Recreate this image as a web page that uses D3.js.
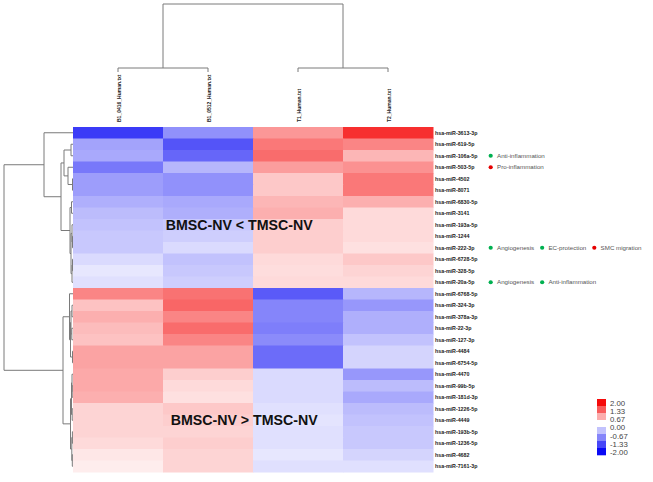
<!DOCTYPE html>
<html><head><meta charset="utf-8">
<script src="https://cdn.jsdelivr.net/npm/d3@7/dist/d3.min.js"></script>
<style>body{margin:0;background:#fff}svg{display:block}</style>
</head><body>
<script>
// ---------- data ----------
const columns = ["B1_0416_Human.txt", "B1_0512_Human.txt", "T1_Human.txt", "T2_Human.txt"];
const rows = ["hsa-miR-3613-3p","hsa-miR-619-5p","hsa-miR-106a-5p","hsa-miR-503-5p","hsa-miR-4502","hsa-miR-8071",
  "hsa-miR-6830-5p","hsa-miR-3141","hsa-miR-193a-5p","hsa-miR-1244","hsa-miR-222-3p","hsa-miR-6728-5p",
  "hsa-miR-328-5p","hsa-miR-20a-5p","hsa-miR-6768-5p","hsa-miR-324-3p","hsa-miR-378a-3p","hsa-miR-22-3p",
  "hsa-miR-127-3p","hsa-miR-4484","hsa-miR-6754-5p","hsa-miR-4470","hsa-miR-99b-5p","hsa-miR-181d-3p",
  "hsa-miR-1226-5p","hsa-miR-4449","hsa-miR-193b-5p","hsa-miR-1236-5p","hsa-miR-4682","hsa-miR-7161-3p"];
const b1_0416 = [-1.6,-0.75,-0.7,-1.1,-0.8,-0.8,-0.65,-0.55,-0.5,-0.45,-0.45,-0.3,-0.2,-0.25,
  1.0,0.5,0.65,0.55,0.5,0.75,0.75,0.7,0.7,0.65,0.35,0.35,0.35,0.3,0.2,0.15];
const b1_0512 = [-0.9,-1.4,-1.25,-0.6,-0.9,-0.9,-0.7,-0.65,-0.45,-0.4,-0.3,-0.5,-0.45,-0.4,
  1.15,1.25,1.0,1.2,1.0,0.75,0.75,0.4,0.3,0.25,0.45,0.4,0.35,0.4,0.35,0.35];
const t1 = [0.85,1.1,1.2,0.8,0.45,0.45,0.6,0.65,0.4,0.4,0.4,0.3,0.28,0.3,
  -1.35,-1.0,-1.0,-1.05,-0.95,-1.2,-1.2,-0.3,-0.3,-0.3,-0.25,-0.22,-0.25,-0.25,-0.2,-0.25];
const t2 = [1.7,1.0,0.6,0.9,1.1,1.1,0.65,0.3,0.3,0.3,0.25,0.45,0.35,0.3,
  -0.6,-0.85,-0.65,-0.65,-0.5,-0.35,-0.35,-0.85,-0.55,-0.7,-0.55,-0.5,-0.45,-0.45,-0.35,-0.25];
const seriesValues = [b1_0416, b1_0512, t1, t2];

// dendrograms: [height, left, right]; leaves are indices
const rowTree = [69,
  [29, 0, [12, [9, [2, 1, 2], [5, 3, [0.5, 4, 5]]],
               [3, [1.5, 6, 7], [2, [1, 8, [0.5, 9, 10]], [1, [0.5, 11, 12], 13]]]]],
  [10, [3.5, 14, [2.5, [2, [1, 15, 16], [1.2, 17, 18]], [0.5, 19, 20]]],
       [2.5, [1.5, [1, 21, [0.8, 22, 23]], [0.8, 24, 25]], [1.2, [0.6, 26, 27], [0.7, 28, 29]]]]];
const colTree = [68, [4, 0, 1], [4, 2, 3]];

const annotations = [
  ["hsa-miR-106a-5p", "Anti-inflammation", "green"],
  ["hsa-miR-503-5p", "Pro-inflammation", "red"],
  ["hsa-miR-222-3p", "Angiogenesis", "green"],
  ["hsa-miR-222-3p", "EC-protection", "green"],
  ["hsa-miR-222-3p", "SMC migration", "red"],
  ["hsa-miR-20a-5p", "Angiogenesis", "green"],
  ["hsa-miR-20a-5p", "Anti-inflammation", "green"]
];
const groupLabels = ["BMSC-NV < TMSC-NV", "BMSC-NV > TMSC-NV"];
const groupRows = ["hsa-miR-193a-5p", "hsa-miR-4449"];
const legendTicks = ["2.00", "1.33", "0.67", "0.00", "-0.67", "-1.33", "-2.00"];
const legendSwatches = [2, 1.33, 0.67, 0, -0.5, -1, -1.5, -2];

// ---------- drawing ----------
const W = 653, H = 482;
const svg = d3.select("body").append("svg").attr("width", W).attr("height", H);
const FONT = "Arial, 'Liberation Sans', sans-serif";

const x = d3.scaleBand().domain(columns).range([73, 433]);
const y = d3.scaleBand().domain(rows).range([127, 472]);
const color = d3.scaleLinear().domain([-2, 0, 2]).range(["#0a0af5", "#ffffff", "#f50a0a"]);

// cells
const cells = [];
rows.forEach((r, i) => columns.forEach((c, j) => cells.push({r, c, v: seriesValues[j][i]})));
svg.append("g").selectAll("rect").data(cells).join("rect")
  .attr("x", d => x(d.c)).attr("y", d => y(d.r))
  .attr("width", x.bandwidth() + 0.5).attr("height", y.bandwidth() + 0.5)
  .attr("fill", d => color(d.v));

// dendrogram layout
function layout(node, posFn) {
  if (typeof node === "number") return {pos: posFn(node), h: 0};
  const A = layout(node[1], posFn), B = layout(node[2], posFn);
  return {pos: (A.pos + B.pos) / 2, h: node[0], kids: [A, B]};
}
function segments(n, out) {
  if (!n.kids) return out;
  out.push({type: "span", h: n.h, a: n.kids[0].pos, b: n.kids[1].pos});
  n.kids.forEach(k => { out.push({type: "arm", h0: n.h, h1: k.h, p: k.pos}); segments(k, out); });
  return out;
}
const dendroStroke = "#7a7a7a";
// row dendrogram
const hx = d3.scaleLinear().domain([0, 69]).range([73, 4]);
const rSeg = segments(layout(rowTree, i => y(rows[i]) + y.bandwidth() / 2), []);
svg.append("g").attr("stroke", dendroStroke).attr("stroke-width", 1).attr("fill", "none")
  .selectAll("line").data(rSeg).join("line")
  .attr("x1", d => d.type === "span" ? hx(d.h) : hx(d.h0))
  .attr("x2", d => d.type === "span" ? hx(d.h) : hx(d.h1))
  .attr("y1", d => d.type === "span" ? d.a : d.p)
  .attr("y2", d => d.type === "span" ? d.b : d.p);
// column dendrogram
const hy = d3.scaleLinear().domain([0, 68]).range([72, 4]);
const cSeg = segments(layout(colTree, j => x(columns[j]) + x.bandwidth() / 2), []);
svg.append("g").attr("stroke", dendroStroke).attr("stroke-width", 1).attr("fill", "none")
  .selectAll("line").data(cSeg).join("line")
  .attr("y1", d => d.type === "span" ? hy(d.h) : hy(d.h0))
  .attr("y2", d => d.type === "span" ? hy(d.h) : hy(d.h1))
  .attr("x1", d => d.type === "span" ? d.a : d.p)
  .attr("x2", d => d.type === "span" ? d.b : d.p);

// column labels
svg.append("g").selectAll("text").data(columns).join("text")
  .attr("transform", d => `translate(${x(d) + x.bandwidth() / 2 + 1},122) rotate(-90)`)
  .attr("dy", "0.35em")
  .attr("font-family", FONT).attr("font-size", 5).attr("font-weight", "bold").attr("fill", "#222")
  .text(d => d);

// row labels
svg.append("g").selectAll("text").data(rows).join("text")
  .attr("x", 435).attr("y", d => y(d) + y.bandwidth() / 2).attr("dy", "0.35em")
  .attr("font-family", FONT).attr("font-size", 5.3).attr("font-weight", "bold").attr("fill", "#222")
  .text(d => d);

// annotations
const annG = svg.append("g");
const cursor = {};
annotations.forEach(([r, label, kind]) => {
  const cx = cursor[r] !== undefined ? cursor[r] : 490.7;
  const cy = y(r) + y.bandwidth() / 2;
  annG.append("circle").attr("cx", cx).attr("cy", cy).attr("r", 2.1)
    .attr("fill", kind === "green" ? "#00b050" : "#e60000");
  const t = annG.append("text").attr("x", cx + 6.3).attr("y", cy).attr("dy", "0.35em")
    .attr("font-family", FONT).attr("font-size", 6.2).attr("fill", "#555").text(label);
  cursor[r] = cx + 6.3 + t.node().getComputedTextLength() + 8;
});

// group labels
svg.append("g").selectAll("text").data(groupLabels).join("text")
  .attr("x", (d, i) => i === 0 ? 165.7 : 170.7)
  .attr("y", (d, i) => y(groupRows[i]) + y.bandwidth() / 2 + 5)
  .attr("font-family", FONT).attr("font-size", 14.2).attr("font-weight", "bold").attr("fill", "#111")
  .text(d => d);

// legend
const ly = d3.scaleBand().domain(d3.range(legendSwatches.length)).range([399, 455]);
svg.append("g").selectAll("rect").data(legendSwatches).join("rect")
  .attr("x", 597).attr("y", (d, i) => ly(i)).attr("width", 9).attr("height", ly.bandwidth() + 0.3)
  .attr("fill", d => color(d));
const lt = d3.scalePoint().domain(legendTicks).range([403.5, 452]);
svg.append("g").selectAll("text").data(legendTicks).join("text")
  .attr("x", 610).attr("y", d => lt(d)).attr("dy", "0.35em")
  .attr("font-family", FONT).attr("font-size", 7.8).attr("fill", "#444")
  .text(d => d);
</script>
</body></html>
